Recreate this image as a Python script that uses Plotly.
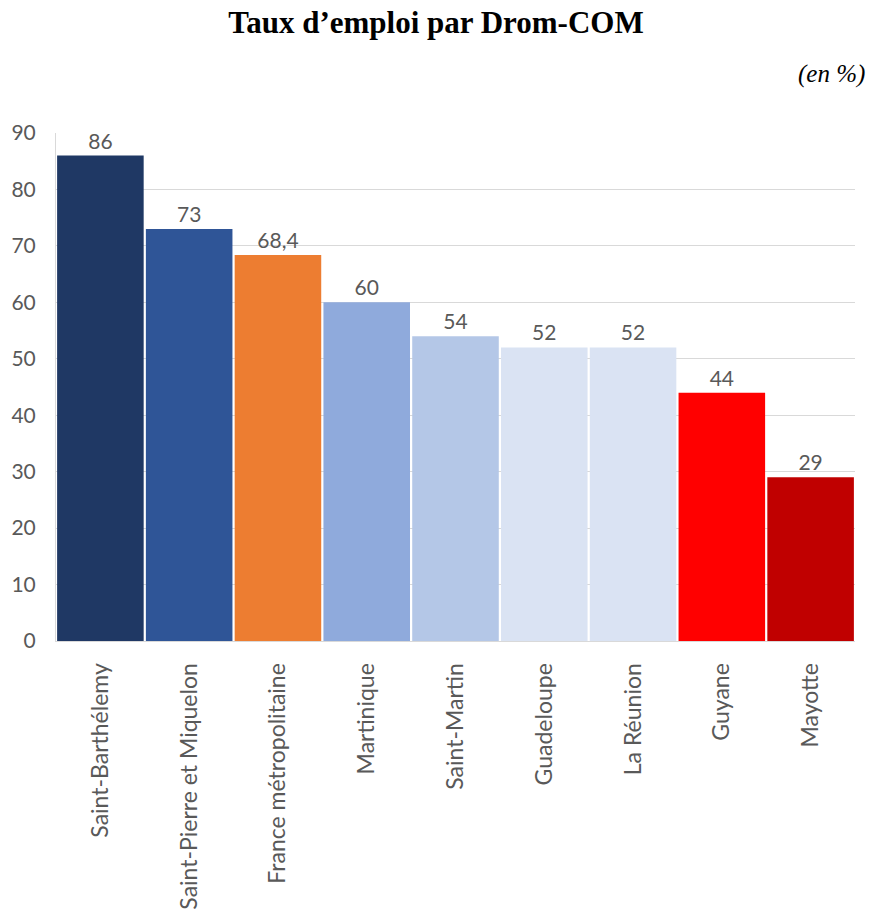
import plotly.graph_objects as go

# Employment rate by overseas territory (%)
territoires = ["Saint-Barthélemy", "Saint-Pierre et Miquelon", "France métropolitaine",
               "Martinique", "Saint-Martin", "Guadeloupe", "La Réunion", "Guyane", "Mayotte"]
taux = [86, 73, 68.4, 60, 54, 52, 52, 44, 29]
couleurs = ["#1F3864", "#2F5597", "#ED7D31", "#8FAADC", "#B4C7E7",
            "#DAE3F3", "#DAE3F3", "#FF0000", "#C00000"]
y_ticks = [0, 10, 20, 30, 40, 50, 60, 70, 80, 90]

labels = [f"{v:g}".replace(".", ",") for v in taux]

fig = go.Figure(go.Bar(
    x=territoires,
    y=taux,
    marker=dict(color=couleurs, line=dict(width=0)),
    text=labels,
    textposition="outside",
    textfont=dict(family="Lato, sans-serif", size=21, color="#595959"),
    cliponaxis=False,
))

fig.update_layout(
    width=872, height=910,
    margin=dict(l=56, r=17, t=133, b=269),
    paper_bgcolor="white", plot_bgcolor="white",
    bargap=0.025,
    showlegend=False,
    title=dict(text="<b>Taux d’emploi par Drom-COM</b>",
               font=dict(family="Liberation Serif, serif", size=31, color="black"),
               x=0.5, xanchor="center", y=0.976, yanchor="middle"),
    annotations=[dict(text="<i>(en %)</i>", xref="paper", yref="paper",
                      x=1.0, y=1.116, xanchor="right", yanchor="middle", xshift=12,
                      showarrow=False,
                      font=dict(family="Liberation Serif, serif", size=25, color="black"))],
)

fig.update_yaxes(range=[0, 90], tickvals=y_ticks, showgrid=True, gridcolor="#D9D9D9",
                 gridwidth=1, zeroline=False, showline=True, linecolor="#D9D9D9",
                 ticks="", ticklabelstandoff=15, automargin=False,
                 tickfont=dict(family="Lato, sans-serif", size=21, color="#595959"))
fig.update_xaxes(tickangle=-90, showline=True, linecolor="#D9D9D9", ticks="",
                 ticklabelstandoff=12, automargin=False,
                 tickfont=dict(family="Lato, sans-serif", size=23, color="#595959"))

fig.write_html("out.html")
